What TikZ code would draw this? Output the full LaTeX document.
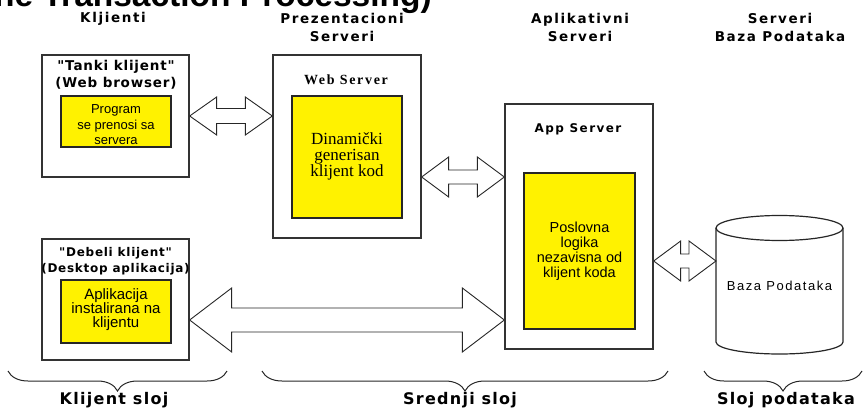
\documentclass[tikz,border=0pt]{standalone}
\usepackage{fontspec}
\setmainfont{Liberation Sans}
\newfontfamily\headfont[LetterSpace=12]{DejaVu Sans}
\newfontfamily\titlefont[LetterSpace=6]{DejaVu Sans}
\newfontfamily\layerfont[LetterSpace=8]{DejaVu Sans}
\newfontfamily\serwide[LetterSpace=12]{Liberation Serif}
\newfontfamily\serfont{Liberation Serif}
\newfontfamily\widefont[LetterSpace=12]{Liberation Sans}
\usetikzlibrary{calc,decorations.pathreplacing}

% two-headed block arrow: #1 left tip, #2 right tip, #3 head length,
% #4 head half-height, #5 shaft half-height (all in pt)
\newcommand\blockarrow[5]{%
  \draw[blockarr] let \p1=(#1), \p2=(#2) in
    (\x1,\y1) -- (\x1+#3,\y1+#4) -- (\x1+#3,\y1+#5) -- (\x2-#3,\y1+#5)
    -- (\x2-#3,\y1+#4) -- (\x2,\y1) -- (\x2-#3,\y1-#4) -- (\x2-#3,\y1-#5)
    -- (\x1+#3,\y1-#5) -- (\x1+#3,\y1-#4) -- cycle;}

\begin{document}
\begin{tikzpicture}[x=1pt,y=-1pt,
  outerbox/.style={draw=black!80, line width=1.3pt, fill=white, inner sep=0pt},
  codebox/.style={draw=black!85, line width=1.1pt, fill=yellow, inner sep=0pt},
  blockarr/.style={draw=black!85, line width=0.9pt, fill=white, line join=miter},
  hdr/.style={font=\headfont\bfseries\fontsize{13.5}{18}\selectfont, align=center, inner sep=0pt},
  boxtitle/.style={font=\titlefont\bfseries\fontsize{12}{16.5}\selectfont, align=center, inner sep=0pt},
  ytext/.style={align=center, inner sep=0pt},
  layer/.style={font=\layerfont\bfseries\fontsize{16}{18}\selectfont, inner sep=0pt},
  layerbrace/.style={decorate, decoration={brace,mirror,amplitude=20pt}, line width=1pt, draw=black!85},
  dbline/.style={draw=black!85, line width=1.2pt}
]
\useasboundingbox (0,0) rectangle (865,409);
\clip (0,0) rectangle (865,409);

% heading, running past the top edge
\node[anchor=base west, inner sep=0pt, font=\bfseries\fontsize{33.5}{34}\selectfont] (title) at (-6,7) {ne Transaction Processing)};

% column headers
\node[hdr] (hcl) at (113,18.5) {Kljienti};
\node[hdr] (hps) at (342,27) {Prezentacioni\\Serveri};
\node[hdr] (has) at (580,27) {Aplikativni\\Serveri};
\node[hdr] (hdb) at (780,27) {Serveri\\Baza Podataka};

% outer boxes
\node[outerbox, minimum width=147pt, minimum height=122pt] (tanki) at (115.5,116) {};
\node[outerbox, minimum width=148pt, minimum height=183pt] (web) at (347,146.5) {};
\node[outerbox, minimum width=148pt, minimum height=245pt] (app) at (579,226.5) {};
\node[outerbox, minimum width=147pt, minimum height=121pt] (debeli) at (115.5,299.5) {};

% box titles
\node[boxtitle, font=\titlefont\bfseries\fontsize{13.5}{17}\selectfont] (ttanki) at (116,74.5) {"Tanki klijent"\\(Web browser)};
\node[inner sep=0pt, font=\serwide\bfseries\fontsize{14}{15}\selectfont] (tweb) at (346,80) {Web Server};
\node[inner sep=0pt, font=\headfont\bfseries\fontsize{12}{15}\selectfont] (tapp) at (578,129) {App Server};
\node[boxtitle] (tdebeli) at (115.5,261) {"Debeli klijent"\\(Desktop aplikacija)};

% yellow code boxes
\node[codebox, minimum width=110pt, minimum height=51pt] (y1) at (116,121.5) {};
\node[codebox, minimum width=110pt, minimum height=122pt] (y2) at (347,157) {};
\node[codebox, minimum width=111pt, minimum height=156pt] (y3) at (579.5,251) {};
\node[codebox, minimum width=110pt, minimum height=63pt] (y4) at (116,311.5) {};

\node[ytext, font=\fontsize{13}{15.5}\selectfont] (x1) at (116,125) {Program\\se prenosi sa\\servera};
\node[ytext, font=\serfont\fontsize{17}{16}\selectfont] (x2) at (347,156) {Dinamički\\generisan\\klijent kod};
\node[ytext, font=\fontsize{14.5}{15}\selectfont] (x3) at (579.5,251) {Poslovna\\logika\\nezavisna od\\klijent koda};
\node[ytext, font=\fontsize{15}{14}\selectfont] (x4) at (116,310) {Aplikacija\\instalirana na\\klijentu};

% database cylinder
\draw[dbline, fill=white] (716,228) -- (716,342) arc[start angle=180, end angle=360, x radius=63.5pt, y radius=12pt] -- (843,228);
\draw[dbline] (779.5,228) ellipse [x radius=63.5pt, y radius=12.5pt];
\node[inner sep=0pt, font=\widefont\fontsize{13}{15}\selectfont] (db) at (779.5,286) {Baza Podataka};
\coordinate (dbw) at (716,261);

% connection rows
\coordinate (r2) at (0,177);
\coordinate (r3) at (0,320);

% block arrows
\blockarrow{tanki.east}{web.west |- tanki.east}{27}{19}{7.5}
\blockarrow{web.east |- r2}{app.west |- r2}{27}{20}{7}
\blockarrow{debeli.east |- r3}{app.west |- r3}{42}{32}{12}
\blockarrow{app.east |- dbw}{dbw}{27}{20}{7}

% tier braces
\draw[layerbrace] (8,371) -- (227,371);
\draw[layerbrace] (262,371) -- (668,371);
\draw[layerbrace] (704,371) -- (862,371);

\node[layer] (lk) at (114,400) {Klijent sloj};
\node[layer] (ls) at (460,400) {Srednji sloj};
\node[layer] (lp) at (786,400) {Sloj podataka};
\end{tikzpicture}
\end{document}
